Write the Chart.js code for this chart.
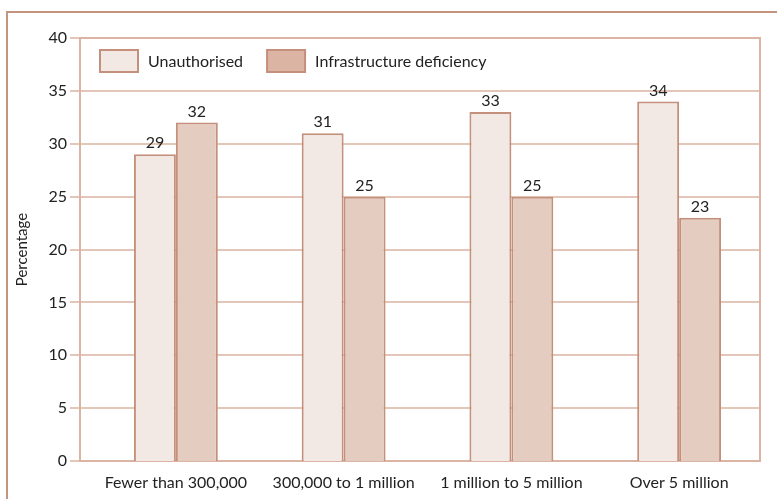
<!DOCTYPE html>
<html>
<head>
<meta charset="utf-8">
<script src="https://cdn.jsdelivr.net/npm/chart.js@4"></script>
<style>
  html, body { margin:0; padding:0; background:#fff; }
  #wrap { position:relative; width:777px; height:499px; overflow:hidden; }
  #frame { position:absolute; left:6px; top:11px; width:800px; height:600px;
           border-left:2px solid #c4947e; border-top:2px solid #c4947e; }
  canvas { position:absolute; left:0; top:0; }
</style>
</head>
<body>
<div id="wrap">
  <div id="frame"></div>
  <canvas id="chart" width="777" height="499"></canvas>
</div>
<script>

const categories = ["Fewer than 300,000", "300,000 to 1 million", "1 million to 5 million", "Over 5 million"];
const unauthorised = [29, 31, 33, 34];
const infrastructure = [32, 25, 25, 23];
const yTicks = [0, 5, 10, 15, 20, 25, 30, 35, 40];

const FONT = "Lato, 'Open Sans', sans-serif";
const gridCol = "#e4c6b8";
const frameCol = "#dcb4a4";
const barEdge = "#c4907c";

// plot box starts a little left of the first category band, as in the original
const FRAME_IN_LEFT = 12;
const FRAME_IN_RIGHT = 3;

const plotFrame = {
    id:"plotFrame",
    beforeDatasetsDraw(chart) {
        const ctx = chart.ctx;
        const a = chart.chartArea;
        const y = chart.scales.y;
        const fl = a.left - FRAME_IN_LEFT;
        const fr = a.right - FRAME_IN_RIGHT;
        ctx.save();
        ctx.lineWidth = 2;
        ctx.strokeStyle = gridCol;
        y.ticks.forEach(t => {
            const py = Math.round(y.getPixelForValue(t.value));
            ctx.beginPath();
            ctx.moveTo(fl - 10, py);
            ctx.lineTo(fr, py);
            ctx.stroke();
        });
        ctx.strokeStyle = frameCol;
        ctx.strokeRect(fl, Math.round(y.getPixelForValue(40)), fr - fl,
            Math.round(y.getPixelForValue(0)) - Math.round(y.getPixelForValue(40)));
        ctx.restore();
    },
    afterDatasetsDraw(chart) {
        const ctx = chart.ctx;
        const a = chart.chartArea;
        ctx.save();
        // value labels
        ctx.fillStyle = "#222";
        ctx.font = "16px " + FONT;
        ctx.textAlign = "center";
        ctx.textBaseline = "bottom";
        chart.data.datasets.forEach((ds, i) => {
            chart.getDatasetMeta(i).data.forEach((bar, j) => {
                ctx.fillText(String(ds.data[j]), bar.x, bar.y - 3);
            });
        });
        // legend
        const items = [
            { text:"Unauthorised", fill:"#f2e8e4" },
            { text:"Infrastructure deficiency", fill:"#dcb4a4" }
        ];
        let x = a.left - FRAME_IN_LEFT + 20;
        const ly = a.top + 12;
        ctx.textAlign = "left";
        ctx.textBaseline = "middle";
        items.forEach(it => {
            ctx.fillStyle = it.fill;
            ctx.fillRect(x, ly, 38, 22);
            ctx.strokeStyle = barEdge;
            ctx.lineWidth = 2;
            ctx.strokeRect(x, ly, 38, 22);
            ctx.fillStyle = "#222";
            ctx.fillText(it.text, x + 48, ly + 12);
            x += 48 + ctx.measureText(it.text).width + 24;
        });
        ctx.restore();
    }
};

new Chart(document.getElementById("chart").getContext("2d"), {

    type:"bar",

    data:{
        labels:categories,
        datasets:[
            {
                label:"Unauthorised",
                data:unauthorised,
                backgroundColor:"#f2e8e4",
                borderColor:barEdge,
                borderWidth:2
            },
            {
                label:"Infrastructure deficiency",
                data:infrastructure,
                backgroundColor:"#e4cdc0",
                borderColor:barEdge,
                borderWidth:2
            }
        ]
    },

    options:{
        responsive:false,
        animation:false,
        devicePixelRatio:1,
        layout:{ padding:{ left:0, top:38, right:14, bottom:0 } },
        categoryPercentage:0.5,
        barPercentage:1.0,
        plugins:{
            legend:{ display:false },
            tooltip:{ enabled:false }
        },
        scales:{
            x:{
                grid:{ display:false },
                border:{ display:false },
                ticks:{ color:"#222", font:{ family:FONT, size:16 }, padding:4, maxRotation:0 },
                afterFit(s) { s.height = 38; }
            },
            y:{
                min:0,
                max:40,
                afterBuildTicks(s) { s.ticks = yTicks.map(v => ({ value:v })); },
                grid:{ display:false },
                border:{ display:false },
                ticks:{ color:"#222", font:{ family:FONT, size:16 }, padding:17 },
                title:{ display:true, text:"Percentage", color:"#222", font:{ family:FONT, size:15 }, padding:{ top:13, bottom:0 } },
                afterFit(s) { s.width = 92; }
            }
        }
    },

    plugins:[plotFrame]

});

</script>
</body>
</html>
